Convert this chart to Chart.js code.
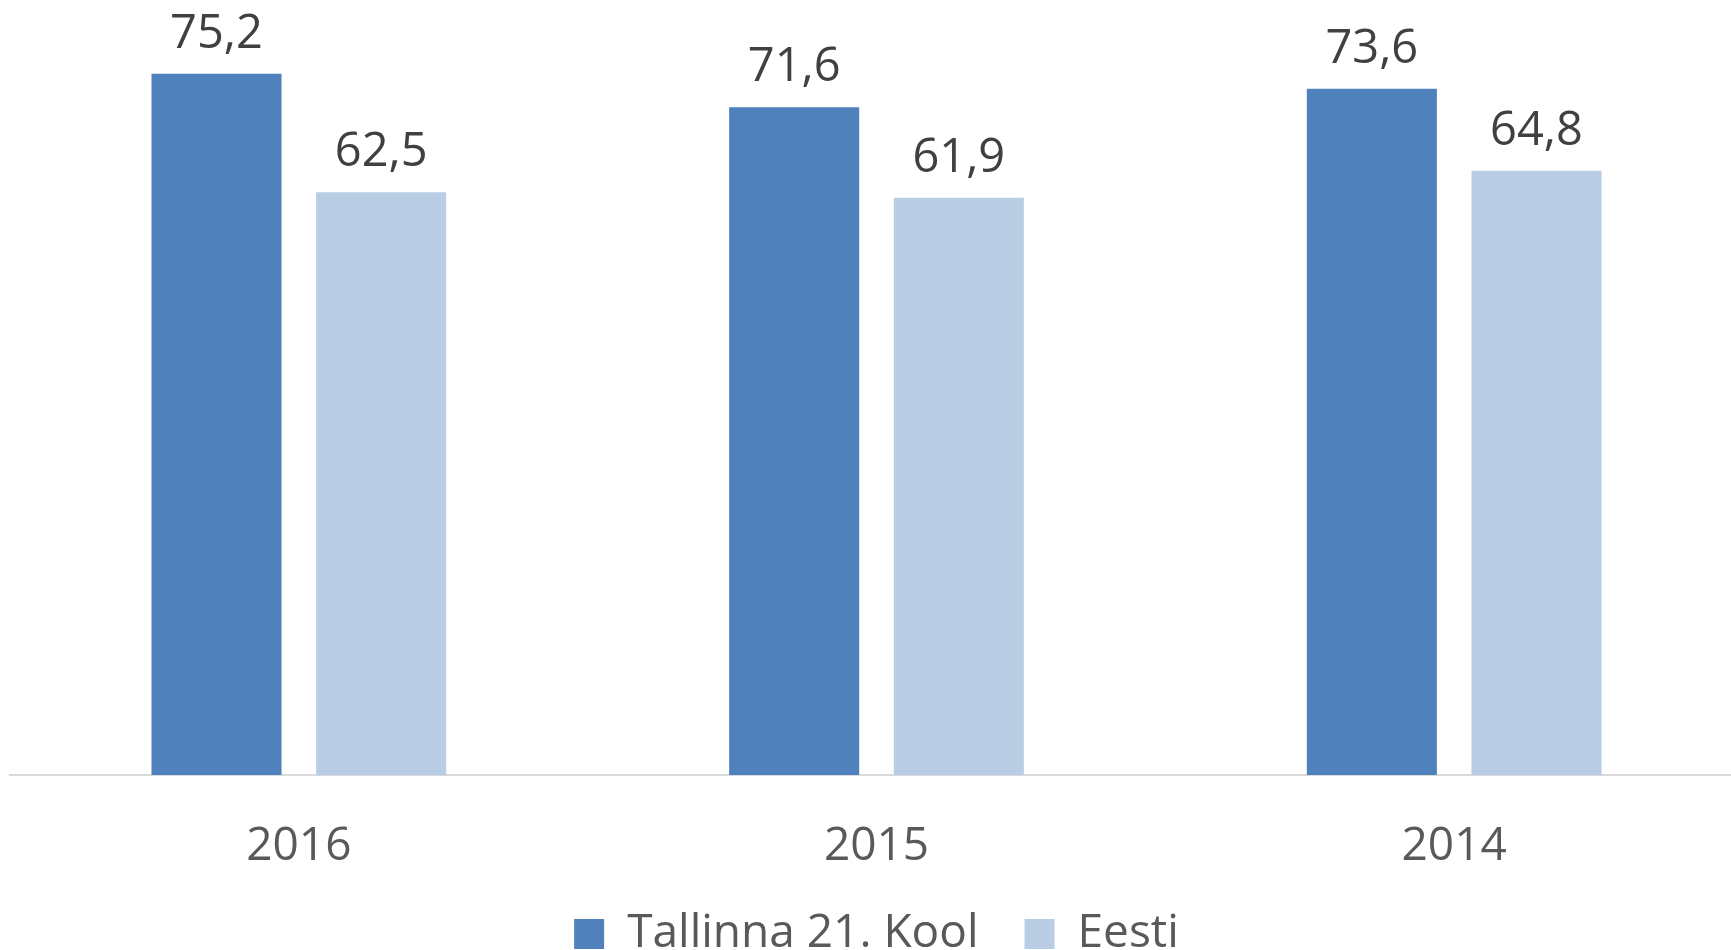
<!DOCTYPE html>
<html>
<head>
<meta charset="utf-8">
<script src="https://cdn.jsdelivr.net/npm/chart.js@4"></script>
<style>
  html, body { margin: 0; padding: 0; background: #fff; overflow: hidden; }
  #wrap { position: absolute; left: 0; top: 0; }
</style>
</head>
<body>
<div id="wrap"><canvas id="chart" width="1745" height="1000"></canvas></div>
<script>
// data
const years = ['2016', '2015', '2014'];
const kool = [75.2, 71.6, 73.6];
const eesti = [62.5, 61.9, 64.8];
const seriesNames = ['Tallinna 21. Kool', 'Eesti'];

// value labels above bars
const barLabels = {
  id: 'barLabels',
  afterDatasetsDraw(chart) {
    const ctx = chart.ctx;
    ctx.save();
    ctx.font = '47px "Open Sans"';
    ctx.fillStyle = '#404040';
    ctx.textAlign = 'center';
    ctx.textBaseline = 'alphabetic';
    chart.data.datasets.forEach(function(ds, i) {
      chart.getDatasetMeta(i).data.forEach(function(bar, j) {
        ctx.fillText(ds.data[j].toFixed(1).replace('.', ','), bar.x, bar.y - 26);
      });
    });
    ctx.restore();
  }
};

new Chart(document.getElementById('chart'), {
  type: 'bar',
  data: {
    labels: years,
    datasets: [{
      label: seriesNames[0],
      data: kool,
      backgroundColor: '#4F81BD'
    }, {
      label: seriesNames[1],
      data: eesti,
      backgroundColor: '#B9CDE5'
    }]
  },
  options: {
    responsive: false,
    animation: false,
    categoryPercentage: 0.57,
    barPercentage: 0.79,
    layout: { padding: { left: 10, right: 2, top: 29, bottom: 33 } },
    scales: {
      x: {
        grid: { display: false, drawTicks: false },
        border: { color: '#D9D9D9', width: 2 },
        ticks: { color: '#595959', font: { family: 'Open Sans', size: 46 }, padding: 44 },
        afterFit: function(scale) { scale.height = 90; }
      },
      y: {
        display: false,
        min: 0,
        max: 80
      }
    },
    plugins: {
      legend: {
        position: 'bottom',
        labels: {
          color: '#595959',
          font: { family: 'Open Sans', size: 46 },
          boxWidth: 30,
          boxHeight: 30,
          padding: 46
        }
      },
      tooltip: { enabled: false }
    }
  },
  plugins: [barLabels]
});
</script>
</body>
</html>
